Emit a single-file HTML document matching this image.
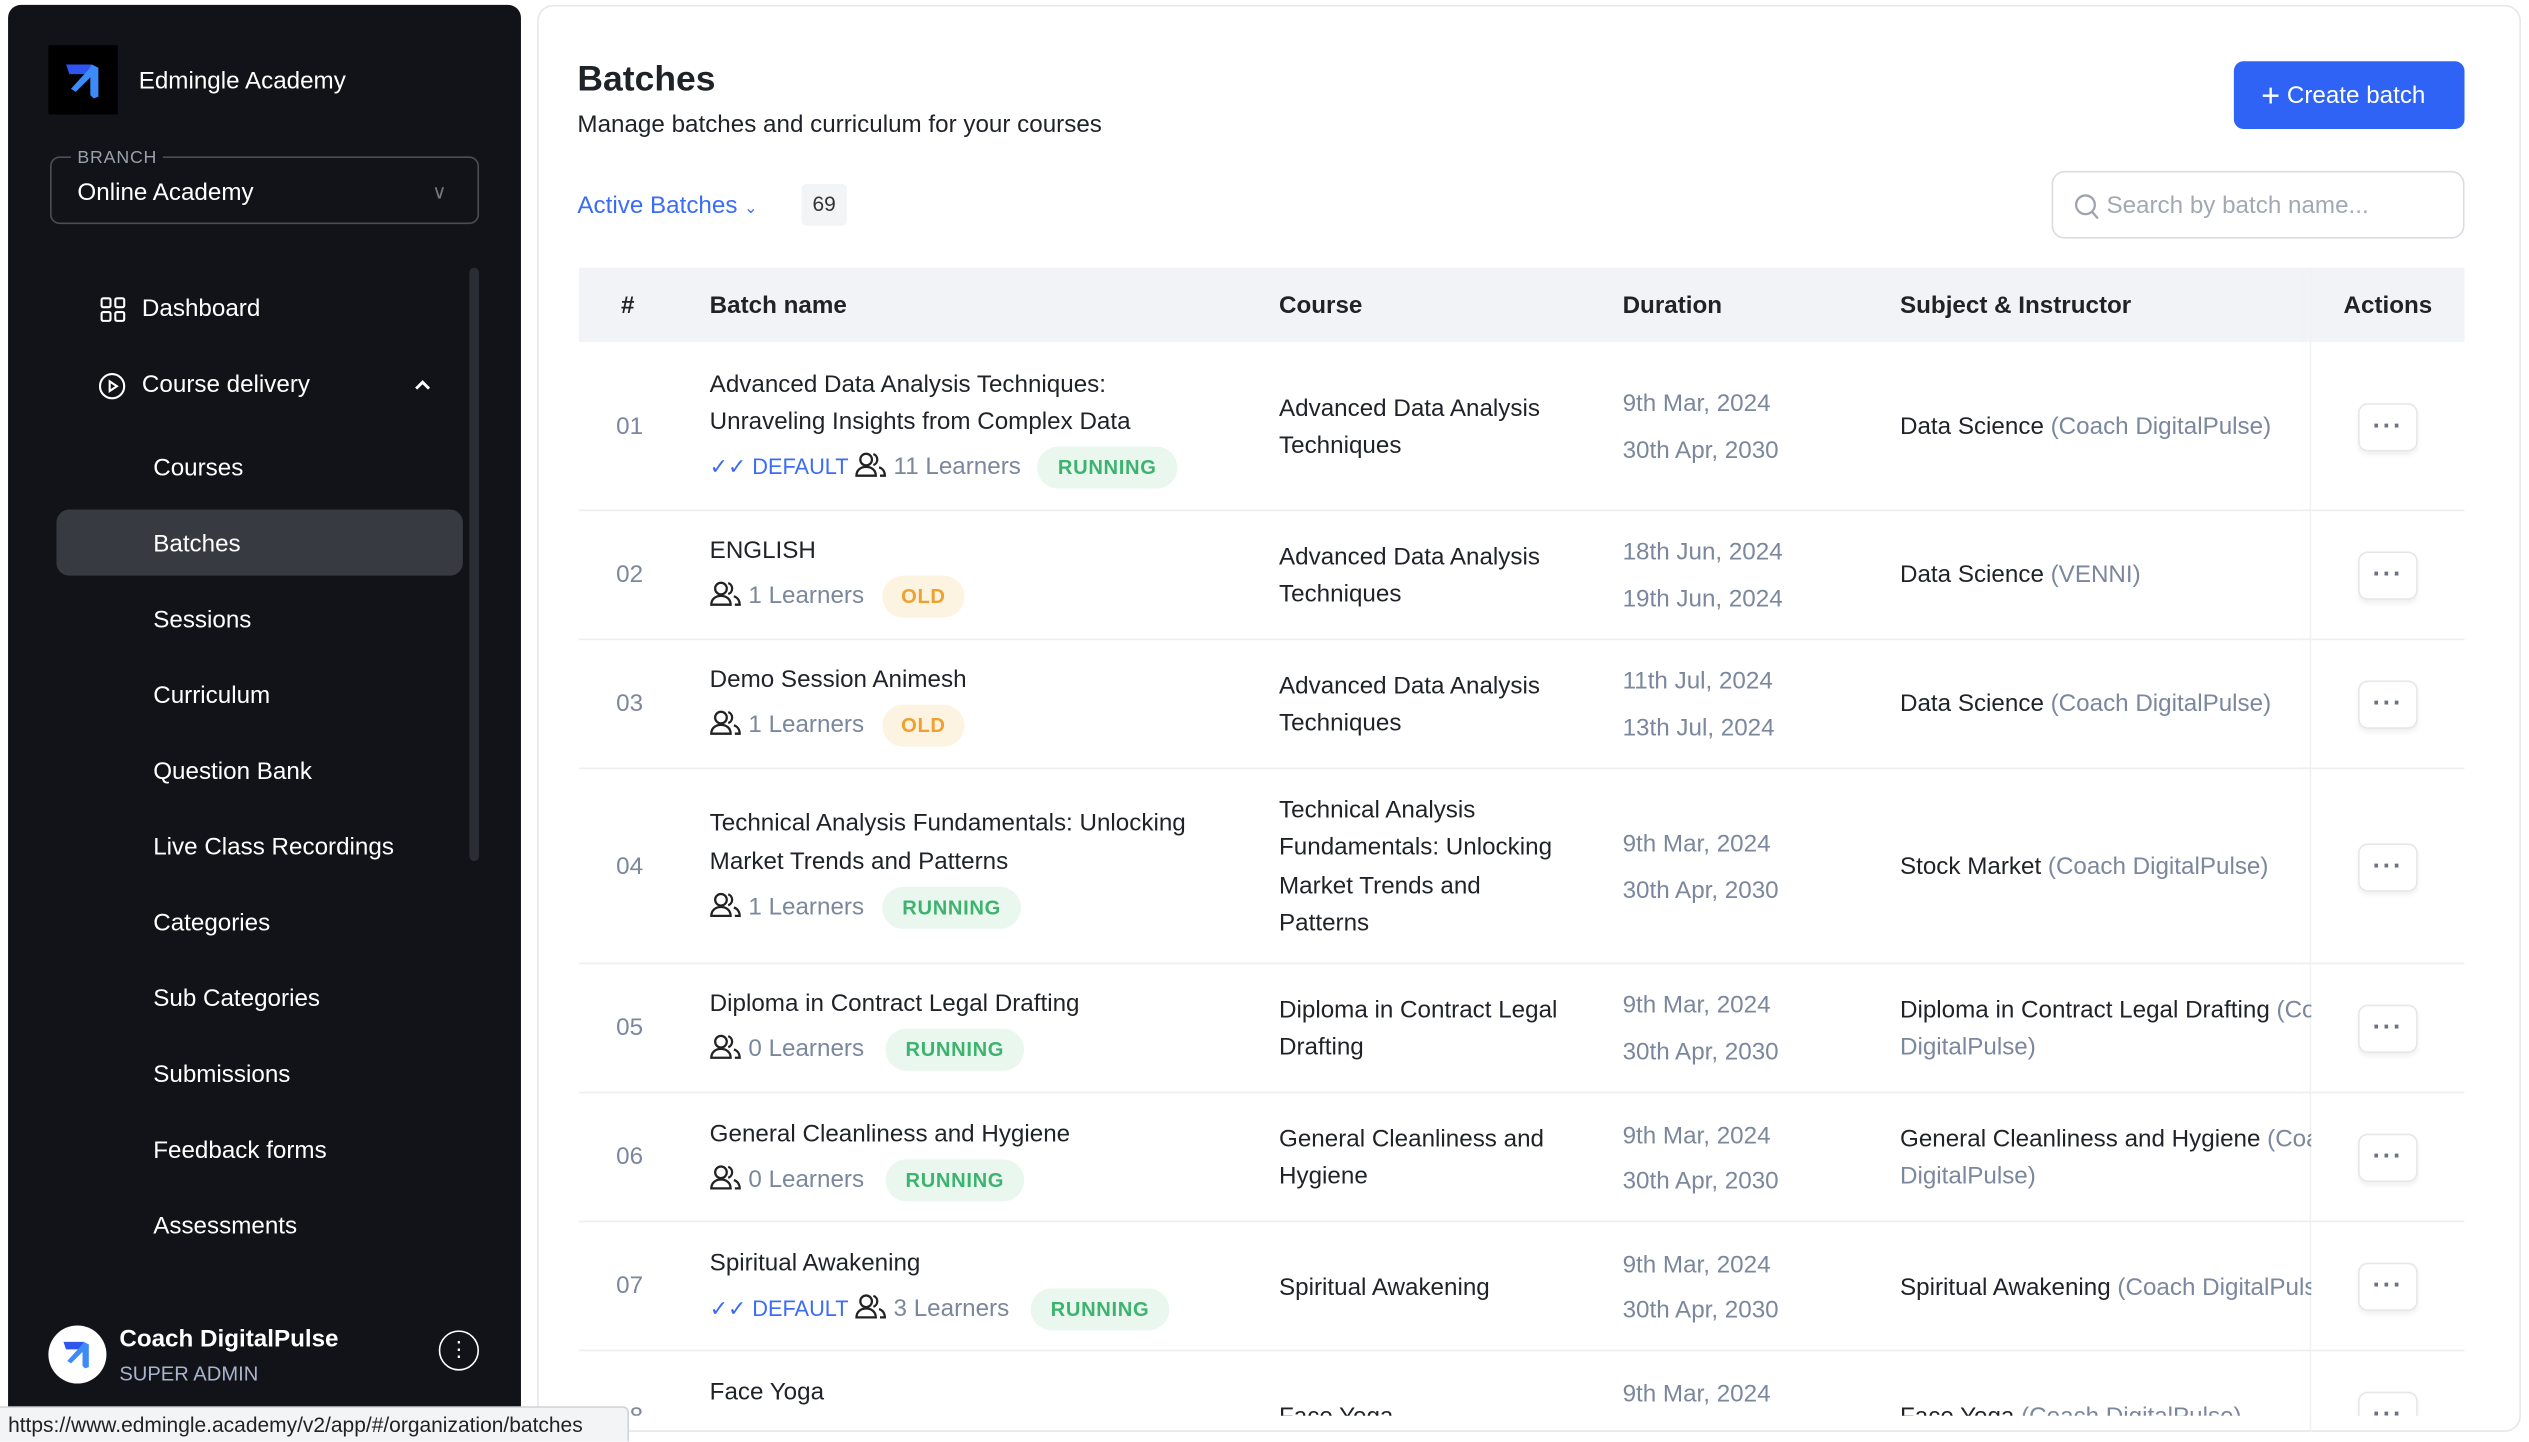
<!DOCTYPE html>
<html><head><meta charset="utf-8">
<style>
*{margin:0;padding:0;box-sizing:border-box}
html,body{width:2529px;height:1440px;overflow:hidden;background:#fff}
#w{position:absolute;left:0;top:0;width:1568px;height:893px;transform:scale(1.6129,1.6125);transform-origin:0 0;font-family:"Liberation Sans",sans-serif;color:#1f2328;font-size:15px}
.a{position:absolute;white-space:nowrap;line-height:26px}
.g{color:#7b879d}
.w{color:#fff}
.b{font-weight:bold}
.pill{position:absolute;height:26px;border-radius:13px;font-size:12.5px;font-weight:bold;line-height:26px;text-align:center;letter-spacing:.4px}
.run{background:#e9f7ef;color:#3eb370}
.old{background:#fdf3e1;color:#f0a030}
.sep{position:absolute;left:359px;width:1169px;height:1px;background:#eceef1}
.dots{position:absolute;left:1462px;width:37px;height:30px;border:1px solid #e5e7eb;border-radius:6px;background:#fff;box-shadow:0 2px 3px rgba(0,0,0,.06);text-align:center;line-height:28px;color:#6b7280;font-size:16px;font-weight:bold;letter-spacing:1px}
.blue{color:#3b6cf6}
.pp{display:inline-block;width:20px;height:16px;vertical-align:-2px;margin-right:4px}
</style></head><body>
<svg width="0" height="0" style="position:absolute"><defs><symbol id="pp" viewBox="0 0 20 16"><g fill="none" stroke="#222" stroke-width="1.4"><circle cx="7" cy="5" r="3.6"/><path d="M1 15c0-3.5 2.7-5.5 6-5.5s6 2 6 5.5z"/><path d="M11.5 1.6a3.6 3.6 0 0 1 0 6.8M15 9.8c2 .6 3.6 2.4 3.6 5.2h-3"/></g></symbol></defs></svg>
<div id="w">
<!-- sidebar -->
<div style="position:absolute;left:5px;top:3px;width:318px;height:880px;background:#111318;border-radius:8px"></div>
<div style="position:absolute;left:30px;top:28px;width:43px;height:43px;background:#000"></div>
<svg style="position:absolute;left:38px;top:36px" width="28" height="28" viewBox="0 0 28 28"><path d="M3 4h16l-2 6H5z" fill="#2f55f0"/><path d="M19 4l4 2v18l-3 1-2-2V12L9 21l-3-2 11-12z" fill="#3d8bf8"/></svg>
<div class="a w" style="left:86px;top:38px">Edmingle Academy</div>
<div style="position:absolute;left:31px;top:97px;width:266px;height:42px;border:1px solid #4a4d55;border-radius:6px"></div>
<div class="a" style="left:44px;top:91px;background:#111318;padding:0 4px;font-size:11px;line-height:14px;color:#9aa0aa;letter-spacing:.5px">BRANCH</div>
<div class="a w" style="left:48px;top:107px">Online Academy</div>
<div class="a" style="left:268px;top:106px;color:#777;font-size:12px">&#8744;</div>
<div style="position:absolute;left:291px;top:166px;width:6px;height:368px;background:#2a2d33;border-radius:3px"></div>
<svg style="position:absolute;left:62px;top:184px" width="16" height="16" viewBox="0 0 16 16" fill="none" stroke="#fff" stroke-width="1.3"><rect x="1" y="1" width="5.5" height="5.5" rx="1"/><rect x="9.5" y="1" width="5.5" height="5.5" rx="1"/><rect x="1" y="9.5" width="5.5" height="5.5" rx="1"/><rect x="9.5" y="9.5" width="5.5" height="5.5" rx="1"/></svg>
<div class="a w" style="left:88px;top:179px">Dashboard</div>
<svg style="position:absolute;left:61px;top:231px" width="17" height="17" viewBox="0 0 17 17" fill="none" stroke="#fff" stroke-width="1.3"><circle cx="8.5" cy="8.5" r="7.5"/><path d="M7 5.5v6l4.5-3z"/></svg>
<div class="a w" style="left:88px;top:226px">Course delivery</div>
<svg style="position:absolute;left:257px;top:235px" width="10" height="8" viewBox="0 0 10 8" fill="none" stroke="#fff" stroke-width="1.8"><path d="M1 6l4-4 4 4"/></svg>
<div style="position:absolute;left:35px;top:316px;width:252px;height:41px;background:#383a42;border-radius:8px"></div>
<div class="a w" style="left:95px;top:278px">Courses</div>
<div class="a w" style="left:95px;top:325px">Batches</div>
<div class="a w" style="left:95px;top:372px">Sessions</div>
<div class="a w" style="left:95px;top:419px">Curriculum</div>
<div class="a w" style="left:95px;top:466px">Question Bank</div>
<div class="a w" style="left:95px;top:513px">Live Class Recordings</div>
<div class="a w" style="left:95px;top:560px">Categories</div>
<div class="a w" style="left:95px;top:607px">Sub Categories</div>
<div class="a w" style="left:95px;top:654px">Submissions</div>
<div class="a w" style="left:95px;top:701px">Feedback forms</div>
<div class="a w" style="left:95px;top:748px">Assessments</div>
<div style="position:absolute;left:30px;top:822px;width:36px;height:36px;border-radius:50%;background:#fff"></div>
<svg style="position:absolute;left:37px;top:829px" width="22" height="22" viewBox="0 0 28 28"><path d="M3 4h16l-2 6H5z" fill="#2f55f0"/><path d="M19 4l4 2v18l-3 1-2-2V12L9 21l-3-2 11-12z" fill="#3d8bf8"/></svg>
<div class="a w b" style="left:74px;top:818px">Coach DigitalPulse</div>
<div class="a" style="left:74px;top:842px;font-size:12.5px;line-height:20px;color:#a9b4cc">SUPER ADMIN</div>
<div style="position:absolute;left:272px;top:825px;width:25px;height:25px;border:1px solid #fff;border-radius:50%;color:#fff;text-align:center;font-size:13px;line-height:22px">&#8942;</div>
<!-- main card -->
<div style="position:absolute;left:333px;top:3px;width:1230px;height:885px;border:1px solid #e5e7eb;border-radius:10px;background:#fff"></div>
<div class="a b" style="left:358px;top:35px;font-size:22px;line-height:28px">Batches</div>
<div class="a" style="left:358px;top:65px">Manage batches and curriculum for your courses</div>
<div style="position:absolute;left:1385px;top:38px;width:143px;height:42px;background:#2f63f5;border-radius:6px"></div>
<div class="a w" style="left:1402px;top:47px"><span style="font-size:20px;vertical-align:-2px">+</span> Create batch</div>
<div class="a blue" style="left:358px;top:115px">Active Batches <span style="font-size:10px">&#8964;</span></div>
<div style="position:absolute;left:497px;top:114px;width:28px;height:26px;background:#f3f4f6;border-radius:3px;text-align:center;line-height:26px;font-size:13px;color:#333">69</div>
<div style="position:absolute;left:1272px;top:106px;width:256px;height:42px;border:1px solid #d9dce1;border-radius:8px"></div>
<svg style="position:absolute;left:1286px;top:120px" width="16" height="17" viewBox="0 0 16 17" fill="none" stroke="#9ca3af" stroke-width="1.4"><circle cx="7" cy="7" r="5.8"/><path d="M11.2 11.5l3.5 4"/></svg>
<div class="a" style="left:1306px;top:115px;color:#a3a9b3">Search by batch name...</div>
<!-- header -->
<div style="position:absolute;left:359px;top:166px;width:1169px;height:46px;background:#f2f3f7"></div>
<div style="position:absolute;left:1432px;top:166px;width:1px;height:722px;background:#f0f1f3;box-shadow:-4px 0 6px rgba(0,0,0,.03)"></div>
<div class="a b" style="left:385px;top:177px">#</div>
<div class="a b" style="left:440px;top:177px">Batch name</div>
<div class="a b" style="left:793px;top:177px">Course</div>
<div class="a b" style="left:1006px;top:177px">Duration</div>
<div class="a b" style="left:1178px;top:177px">Subject &amp; Instructor</div>
<div class="a b" style="left:1453px;top:177px">Actions</div>
<div class="sep" style="top:316px"></div><div class="sep" style="top:396px"></div><div class="sep" style="top:476px"></div><div class="sep" style="top:597px"></div><div class="sep" style="top:677px"></div><div class="sep" style="top:757px"></div><div class="sep" style="top:837px"></div>
<div style="position:absolute;left:334px;top:212px;width:1228px;height:666px;overflow:hidden">
<div style="position:absolute;left:-334px;top:-212px;width:1568px;height:893px">
<!-- row 01 -->
<div class="a g" style="left:382px;top:252px">01</div>
<div class="a" style="left:440px;top:226px">Advanced Data Analysis Techniques:</div>
<div class="a" style="left:440px;top:249px">Unraveling Insights from Complex Data</div>
<div class="a blue" style="left:440px;top:277px;font-size:13.5px">&#10003;&#10003; DEFAULT</div>
<div class="a g" style="left:530px;top:277px"><svg class="pp"><use href="#pp"/></svg>11 Learners</div>
<div class="pill run" style="left:643px;top:277px;width:87px">RUNNING</div>
<div class="a" style="left:793px;top:241px">Advanced Data Analysis</div>
<div class="a" style="left:793px;top:264px">Techniques</div>
<div class="a g" style="left:1006px;top:238px">9th Mar, 2024</div>
<div class="a g" style="left:1006px;top:267px">30th Apr, 2030</div>
<div class="a" style="left:1178px;top:252px">Data Science <span class="g">(Coach DigitalPulse)</span></div>
<!-- row 02 -->
<div class="a g" style="left:382px;top:344px">02</div>
<div class="a" style="left:440px;top:329px">ENGLISH</div>
<div class="a g" style="left:440px;top:357px"><svg class="pp"><use href="#pp"/></svg>1 Learners</div>
<div class="pill old" style="left:547px;top:357px;width:51px">OLD</div>
<div class="a" style="left:793px;top:333px">Advanced Data Analysis</div>
<div class="a" style="left:793px;top:356px">Techniques</div>
<div class="a g" style="left:1006px;top:330px">18th Jun, 2024</div>
<div class="a g" style="left:1006px;top:359px">19th Jun, 2024</div>
<div class="a" style="left:1178px;top:344px">Data Science <span class="g">(VENNI)</span></div>
<!-- row 03 -->
<div class="a g" style="left:382px;top:424px">03</div>
<div class="a" style="left:440px;top:409px">Demo Session Animesh</div>
<div class="a g" style="left:440px;top:437px"><svg class="pp"><use href="#pp"/></svg>1 Learners</div>
<div class="pill old" style="left:547px;top:437px;width:51px">OLD</div>
<div class="a" style="left:793px;top:413px">Advanced Data Analysis</div>
<div class="a" style="left:793px;top:436px">Techniques</div>
<div class="a g" style="left:1006px;top:410px">11th Jul, 2024</div>
<div class="a g" style="left:1006px;top:439px">13th Jul, 2024</div>
<div class="a" style="left:1178px;top:424px">Data Science <span class="g">(Coach DigitalPulse)</span></div>
<!-- row 04 -->
<div class="a g" style="left:382px;top:525px">04</div>
<div class="a" style="left:440px;top:498px">Technical Analysis Fundamentals: Unlocking</div>
<div class="a" style="left:440px;top:522px">Market Trends and Patterns</div>
<div class="a g" style="left:440px;top:550px"><svg class="pp"><use href="#pp"/></svg>1 Learners</div>
<div class="pill run" style="left:547px;top:550px;width:86px">RUNNING</div>
<div class="a" style="left:793px;top:490px">Technical Analysis</div>
<div class="a" style="left:793px;top:513px">Fundamentals: Unlocking</div>
<div class="a" style="left:793px;top:537px">Market Trends and</div>
<div class="a" style="left:793px;top:560px">Patterns</div>
<div class="a g" style="left:1006px;top:511px">9th Mar, 2024</div>
<div class="a g" style="left:1006px;top:540px">30th Apr, 2030</div>
<div class="a" style="left:1178px;top:525px">Stock Market <span class="g">(Coach DigitalPulse)</span></div>
<!-- row 05 -->
<div class="a g" style="left:382px;top:625px">05</div>
<div class="a" style="left:440px;top:610px">Diploma in Contract Legal Drafting</div>
<div class="a g" style="left:440px;top:638px"><svg class="pp"><use href="#pp"/></svg>0 Learners</div>
<div class="pill run" style="left:549px;top:638px;width:86px">RUNNING</div>
<div class="a" style="left:793px;top:614px">Diploma in Contract Legal</div>
<div class="a" style="left:793px;top:637px">Drafting</div>
<div class="a g" style="left:1006px;top:611px">9th Mar, 2024</div>
<div class="a g" style="left:1006px;top:640px">30th Apr, 2030</div>
<div class="a" style="left:1178px;top:614px">Diploma in Contract Legal Drafting <span class="g">(Coach</span></div>
<div class="a g" style="left:1178px;top:637px">DigitalPulse)</div>
<!-- row 06 -->
<div class="a g" style="left:382px;top:705px">06</div>
<div class="a" style="left:440px;top:691px">General Cleanliness and Hygiene</div>
<div class="a g" style="left:440px;top:719px"><svg class="pp"><use href="#pp"/></svg>0 Learners</div>
<div class="pill run" style="left:549px;top:719px;width:86px">RUNNING</div>
<div class="a" style="left:793px;top:694px">General Cleanliness and</div>
<div class="a" style="left:793px;top:717px">Hygiene</div>
<div class="a g" style="left:1006px;top:692px">9th Mar, 2024</div>
<div class="a g" style="left:1006px;top:720px">30th Apr, 2030</div>
<div class="a" style="left:1178px;top:694px">General Cleanliness and Hygiene <span class="g">(Coach</span></div>
<div class="a g" style="left:1178px;top:717px">DigitalPulse)</div>
<!-- row 07 -->
<div class="a g" style="left:382px;top:785px">07</div>
<div class="a" style="left:440px;top:771px">Spiritual Awakening</div>
<div class="a blue" style="left:440px;top:799px;font-size:13.5px">&#10003;&#10003; DEFAULT</div>
<div class="a g" style="left:530px;top:799px"><svg class="pp"><use href="#pp"/></svg>3 Learners</div>
<div class="pill run" style="left:639px;top:799px;width:86px">RUNNING</div>
<div class="a" style="left:793px;top:786px">Spiritual Awakening</div>
<div class="a g" style="left:1006px;top:772px">9th Mar, 2024</div>
<div class="a g" style="left:1006px;top:800px">30th Apr, 2030</div>
<div class="a" style="left:1178px;top:786px">Spiritual Awakening <span class="g">(Coach DigitalPulse)</span></div>
<!-- row 08 -->
<div class="a g" style="left:382px;top:866px">08</div>
<div class="a" style="left:440px;top:851px">Face Yoga</div>
<div class="a" style="left:793px;top:866px">Face Yoga</div>
<div class="a g" style="left:1006px;top:852px">9th Mar, 2024</div>
<div class="a" style="left:1178px;top:866px">Face Yoga <span class="g">(Coach DigitalPulse)</span></div>
<!-- actions col cover -->
<div style="position:absolute;left:1433px;top:212px;width:95px;height:680px;background:#fff"></div>
<div class="sep" style="top:316px;left:1433px;width:95px"></div><div class="sep" style="top:396px;left:1433px;width:95px"></div><div class="sep" style="top:476px;left:1433px;width:95px"></div><div class="sep" style="top:597px;left:1433px;width:95px"></div><div class="sep" style="top:677px;left:1433px;width:95px"></div><div class="sep" style="top:757px;left:1433px;width:95px"></div><div class="sep" style="top:837px;left:1433px;width:95px"></div>
<div class="dots" style="top:250px">&middot;&middot;&middot;</div>
<div class="dots" style="top:342px">&middot;&middot;&middot;</div>
<div class="dots" style="top:422px">&middot;&middot;&middot;</div>
<div class="dots" style="top:523px">&middot;&middot;&middot;</div>
<div class="dots" style="top:623px">&middot;&middot;&middot;</div>
<div class="dots" style="top:703px">&middot;&middot;&middot;</div>
<div class="dots" style="top:783px">&middot;&middot;&middot;</div>
<div class="dots" style="top:863px">&middot;&middot;&middot;</div>
</div></div>
<!-- status bar -->
<div style="position:absolute;left:0;top:872px;width:390px;height:22px;background:#f3f4f6;border:1px solid #cfd2d6;border-left:none;border-bottom:none;border-radius:0 4px 0 0;font-size:13px;line-height:21px;padding-left:5px;color:#222;white-space:nowrap">https://www.edmingle.academy/v2/app/#/organization/batches</div>
</div></body></html>
